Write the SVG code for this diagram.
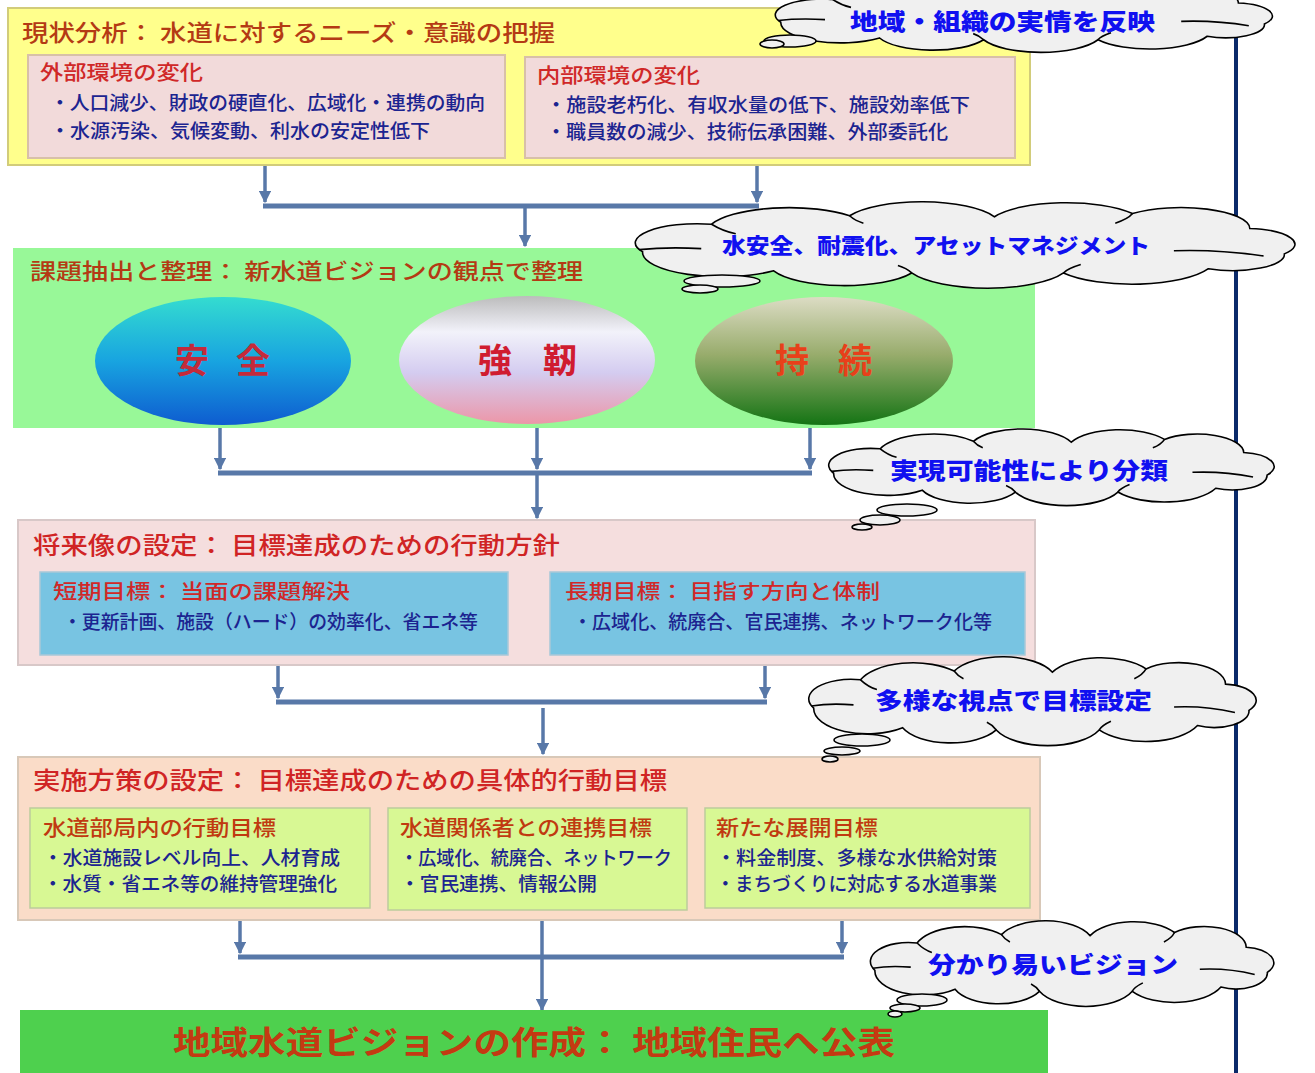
<svg xmlns="http://www.w3.org/2000/svg" xmlns:xlink="http://www.w3.org/1999/xlink" width="1315" height="1073" viewBox="0 0 1315 1073">
<style>
text{font-family:"Noto Sans CJK JP","Noto Sans CJK SC",sans-serif;font-weight:500;}
.ttl{font-size:24px;fill:#d02424;}
.ttl2{font-size:23px;fill:#b43a14;}
.sub{font-size:20px;fill:#d02828;}
.sub2{font-size:21px;fill:#c03a10;}
.body{font-size:19px;fill:#1c2490;}
.ell{font-size:34px;font-weight:bold;}
.cl{font-size:23px;font-weight:900;fill:#1010f0;}
.cloud{fill:#f0f0f0;stroke:#000;stroke-width:1.6;}
.cin{fill:none;stroke:#000;stroke-width:1.6;}
.con{fill:none;stroke:#5878a8;stroke-width:3.5;}
.hcon{fill:none;stroke:#5878a8;stroke-width:5;}
</style>
<defs>
<marker id="ah" viewBox="0 0 10 10" refX="9" refY="5" markerWidth="3.5" markerHeight="3.5" orient="auto" markerUnits="strokeWidth">
<path d="M0,0 L10,5 L0,10 z" fill="#5878a8"/>
</marker>
<linearGradient id="gA" x1="0" y1="0" x2="0" y2="1">
<stop offset="0" stop-color="#34dcd0"/>
<stop offset="0.5" stop-color="#18a4e0"/>
<stop offset="1" stop-color="#0e5cd0"/>
</linearGradient>
<linearGradient id="gK" x1="0" y1="0" x2="0" y2="1">
<stop offset="0" stop-color="#bcbcbc"/>
<stop offset="0.28" stop-color="#f2f2fa"/>
<stop offset="0.6" stop-color="#d4ccf0"/>
<stop offset="1" stop-color="#ec96a8"/>
</linearGradient>
<linearGradient id="gJ" x1="0" y1="0" x2="0" y2="1">
<stop offset="0" stop-color="#dcdcc4"/>
<stop offset="0.45" stop-color="#98ac6c"/>
<stop offset="1" stop-color="#147414"/>
</linearGradient>
<g id="cloudShape">
<path class="cloud" vector-effect="non-scaling-stroke" d="M8,46 A18,18 0 0 1 28,20 A24,24 0 0 1 68,12 A23,23 0 0 1 110,13 A23,23 0 0 1 150,10 A20,20 0 0 1 184,24 A15,15 0 0 1 194,48 A15,15 0 0 1 172,62 A24,24 0 0 1 130,66 A24,24 0 0 1 86,66 A22,22 0 0 1 46,64 A23,23 0 0 1 8,46 Z"/>
<path class="cin" vector-effect="non-scaling-stroke" d="M7,44 C13,42 19,42 25,43 M162,45 C172,44 180,46 188,50 M28,20 C30,24 32,27 35,29 M68,12 C69,15 70,17 72,19 M150,10 C149,14 147,17 145,19 M130,66 C131,62 133,60 135,58 M86,66 C85,63 84,61 82,59"/>
</g>
</defs>
<rect width="1315" height="1073" fill="#ffffff"/>

<g id="timeline">
<line x1="1236" y1="0" x2="1236" y2="1073" stroke="#0a2a6a" stroke-width="4"/>
</g>

<g id="connectors">
<path class="con" d="M265,160 V202" marker-end="url(#ah)"/>
<path class="con" d="M757,160 V202" marker-end="url(#ah)"/>
<path class="hcon" d="M263,206 H759"/>
<path class="con" d="M525,208 V246" marker-end="url(#ah)"/>

<path class="con" d="M220,428 V469" marker-end="url(#ah)"/>
<path class="con" d="M537,428 V469" marker-end="url(#ah)"/>
<path class="con" d="M810,428 V469" marker-end="url(#ah)"/>
<path class="hcon" d="M218,473 H812"/>
<path class="con" d="M537,475 V518" marker-end="url(#ah)"/>

<path class="con" d="M278,657 V698" marker-end="url(#ah)"/>
<path class="con" d="M765,657 V698" marker-end="url(#ah)"/>
<path class="hcon" d="M276,702 H767"/>
<path class="con" d="M543,708 V754" marker-end="url(#ah)"/>

<path class="con" d="M240,912 V953" marker-end="url(#ah)"/>
<path class="con" d="M842,912 V953" marker-end="url(#ah)"/>
<path class="hcon" d="M238,957 H844"/>
<path class="con" d="M542,912 V1010" marker-end="url(#ah)"/>
</g>

<g id="node-genjo">
<rect x="8" y="8" width="1022" height="157" fill="#ffff8c" stroke="#d2cc7a" stroke-width="2"/>
<text class="ttl2" x="22" y="41" textLength="533" lengthAdjust="spacingAndGlyphs">現状分析： 水道に対するニーズ・意識の把握</text>
</g>
<g id="node-gaibu">
<rect x="28" y="55" width="477" height="103" fill="#f2dada" stroke="#d8c0a8" stroke-width="2"/>
<text class="sub" x="40" y="80" textLength="163" lengthAdjust="spacingAndGlyphs">外部環境の変化</text>
<text class="body" x="50" y="110" textLength="435" lengthAdjust="spacingAndGlyphs">・人口減少、財政の硬直化、広域化・連携の動向</text>
<text class="body" x="50" y="138" textLength="380" lengthAdjust="spacingAndGlyphs">・水源汚染、気候変動、利水の安定性低下</text>
</g>
<g id="node-naibu">
<rect x="525" y="57" width="490" height="101" fill="#f2dada" stroke="#d8c0a8" stroke-width="2"/>
<text class="sub" x="537" y="83" textLength="163" lengthAdjust="spacingAndGlyphs">内部環境の変化</text>
<text class="body" x="546" y="112" textLength="424" lengthAdjust="spacingAndGlyphs">・施設老朽化、有収水量の低下、施設効率低下</text>
<text class="body" x="546" y="139" textLength="402" lengthAdjust="spacingAndGlyphs">・職員数の減少、技術伝承困難、外部委託化</text>
</g>

<g id="node-kadai">
<rect x="13" y="248" width="1022" height="180" fill="#98f898"/>
<text class="ttl2" x="30" y="279" textLength="553" lengthAdjust="spacingAndGlyphs" style="font-size:22px">課題抽出と整理： 新水道ビジョンの観点で整理</text>
</g>
<g id="node-anzen">
<ellipse cx="223" cy="361" rx="128" ry="64" fill="url(#gA)"/>
<text class="ell" x="175" y="373" fill="#c42a3a" textLength="95" lengthAdjust="spacing">安 全</text>
</g>
<g id="node-kyojin">
<ellipse cx="527" cy="360" rx="128" ry="64" fill="url(#gK)"/>
<text class="ell" x="478" y="373" fill="#d01c30" textLength="99" lengthAdjust="spacing">強 靭</text>
</g>
<g id="node-jizoku">
<ellipse cx="824" cy="361" rx="129" ry="64" fill="url(#gJ)"/>
<text class="ell" x="775" y="373" fill="#e8401a" textLength="97" lengthAdjust="spacing">持 続</text>
</g>

<g id="node-shoraizo">
<rect x="18" y="520" width="1017" height="145" fill="#f5dede" stroke="#d8c8c8" stroke-width="2"/>
<text class="ttl" x="33" y="554" textLength="527" lengthAdjust="spacingAndGlyphs">将来像の設定： 目標達成のための行動方針</text>
</g>
<g id="node-tanki">
<rect x="40" y="572" width="468" height="83" fill="#78c4e2" stroke="#a8c8d8" stroke-width="1.5"/>
<text class="sub" x="53" y="599" textLength="297" lengthAdjust="spacingAndGlyphs">短期目標： 当面の課題解決</text>
<text class="body" x="63" y="629" textLength="415" lengthAdjust="spacingAndGlyphs">・更新計画、施設（ハード）の効率化、省エネ等</text>
</g>
<g id="node-choki">
<rect x="550" y="572" width="475" height="83" fill="#78c4e2" stroke="#a8c8d8" stroke-width="1.5"/>
<text class="sub" x="565" y="599" textLength="315" lengthAdjust="spacingAndGlyphs">長期目標： 目指す方向と体制</text>
<text class="body" x="573" y="629" textLength="419" lengthAdjust="spacingAndGlyphs">・広域化、統廃合、官民連携、ネットワーク化等</text>
</g>

<g id="node-jisshi">
<rect x="18" y="757" width="1022" height="163" fill="#fadcc8" stroke="#d8c8b8" stroke-width="2"/>
<text class="ttl" x="33" y="789" textLength="634" lengthAdjust="spacingAndGlyphs">実施方策の設定： 目標達成のための具体的行動目標</text>
</g>
<g id="node-bukyoku">
<rect x="30" y="808" width="340" height="100" fill="#d8f894" stroke="#bccc9c" stroke-width="1.5"/>
<text class="sub2" x="43" y="835" textLength="233" lengthAdjust="spacingAndGlyphs">水道部局内の行動目標</text>
<text class="body" x="43" y="865" textLength="297" lengthAdjust="spacingAndGlyphs">・水道施設レベル向上、人材育成</text>
<text class="body" x="43" y="891" textLength="294" lengthAdjust="spacingAndGlyphs">・水質・省エネ等の維持管理強化</text>
</g>
<g id="node-renkei">
<rect x="388" y="808" width="299" height="102" fill="#d8f894" stroke="#bccc9c" stroke-width="1.5"/>
<text class="sub2" x="400" y="835" textLength="252" lengthAdjust="spacingAndGlyphs">水道関係者との連携目標</text>
<text class="body" x="400" y="865" textLength="272" lengthAdjust="spacingAndGlyphs">・広域化、統廃合、ネットワーク</text>
<text class="body" x="400" y="891" textLength="197" lengthAdjust="spacingAndGlyphs">・官民連携、情報公開</text>
</g>
<g id="node-tenkai">
<rect x="705" y="808" width="325" height="100" fill="#d8f894" stroke="#bccc9c" stroke-width="1.5"/>
<text class="sub2" x="716" y="835" textLength="162" lengthAdjust="spacingAndGlyphs">新たな展開目標</text>
<text class="body" x="716" y="865" textLength="281" lengthAdjust="spacingAndGlyphs">・料金制度、多様な水供給対策</text>
<text class="body" x="716" y="891" textLength="281" lengthAdjust="spacingAndGlyphs">・まちづくりに対応する水道事業</text>
</g>

<g id="node-vision">
<rect x="20" y="1010" width="1028" height="70" fill="#4ed04e"/>
<text x="173" y="1054" textLength="722" lengthAdjust="spacingAndGlyphs" style="font-size:32px;font-weight:bold;fill:#c43a12">地域水道ビジョンの作成： 地域住民へ公表</text>
</g>

<g id="cloud-1">
<use xlink:href="#cloudShape" transform="translate(760,-18) scale(2.6,0.875)"/>
<ellipse class="cloud" cx="790" cy="41" rx="26" ry="6"/>
<ellipse class="cloud" cx="772" cy="44" rx="12" ry="4"/>
<text class="cl" x="850" y="30" textLength="305" lengthAdjust="spacingAndGlyphs">地域・組織の実情を反映</text>
</g>
<g id="cloud-2">
<use xlink:href="#cloudShape" transform="translate(615,203) scale(3.45,1.06)"/>
<ellipse class="cloud" cx="722" cy="281" rx="38" ry="6"/>
<ellipse class="cloud" cx="700" cy="289" rx="18" ry="4"/>
<text class="cl" x="722" y="253" textLength="428" lengthAdjust="spacingAndGlyphs" style="font-size:21px">水安全、耐震化、アセットマネジメント</text>
</g>
<g id="cloud-3">
<use xlink:href="#cloudShape" transform="translate(815,430) scale(2.33,0.94)"/>
<ellipse class="cloud" cx="907" cy="510" rx="30" ry="6"/>
<ellipse class="cloud" cx="880" cy="520" rx="20" ry="5"/>
<ellipse class="cloud" cx="862" cy="527" rx="10" ry="3"/>
<text class="cl" x="890" y="479" textLength="278" lengthAdjust="spacingAndGlyphs">実現可能性により分類</text>
</g>
<g id="cloud-4">
<use xlink:href="#cloudShape" transform="translate(795,658) scale(2.34,1.09)"/>
<ellipse class="cloud" cx="862" cy="740" rx="28" ry="6"/>
<ellipse class="cloud" cx="842" cy="751" rx="18" ry="4"/>
<ellipse class="cloud" cx="830" cy="759" rx="8" ry="3"/>
<text class="cl" x="875" y="709" textLength="277" lengthAdjust="spacingAndGlyphs">多様な視点で目標設定</text>
</g>
<g id="cloud-5">
<use xlink:href="#cloudShape" transform="translate(858,922) scale(2.11,1.05)"/>
<ellipse class="cloud" cx="922" cy="1000" rx="25" ry="6"/>
<ellipse class="cloud" cx="905" cy="1008" rx="15" ry="4"/>
<ellipse class="cloud" cx="895" cy="1014" rx="7" ry="3"/>
<text class="cl" x="928" y="973" textLength="250" lengthAdjust="spacingAndGlyphs">分かり易いビジョン</text>
</g>
</svg>
